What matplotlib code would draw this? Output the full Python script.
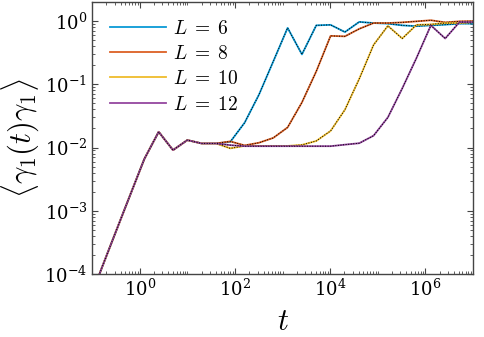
import numpy as np
import matplotlib
matplotlib.use("Agg")
import matplotlib.pyplot as plt
from matplotlib.ticker import LogLocator, NullFormatter

plt.rcParams["mathtext.fontset"] = "cm"
plt.rcParams["font.family"] = "serif"
plt.rcParams["font.serif"] = ["DejaVu Serif"]

# time grid (t = 10 * 2^k)
t = [0.078125, 0.15625, 0.3125, 0.625, 1.25, 2.5, 5, 10, 20, 40,
     80, 160, 320, 640, 1280, 2560, 5120, 10240, 20480, 40960,
     81920, 163840, 327680, 655360, 1310720, 2621440, 5242880, 10485760]

# early part shared by all sizes (t <= 40)
early = [3.0e-5, 1.2e-4, 4.6e-4, 1.75e-3, 6.6e-3, 0.0177, 0.0091,
         0.0131, 0.0116, 0.0116]

L6 = [0.0123, 0.0247, 0.0685, 0.230, 0.78, 0.297, 0.855, 0.871, 0.67,
      0.97, 0.93, 0.91, 0.855, 0.83, 0.855, 0.877, 0.91, 0.91]
L8 = [0.0125, 0.0108, 0.0119, 0.0142, 0.0208, 0.0517, 0.16, 0.583, 0.573,
      0.753, 0.93, 0.93, 0.953, 0.99, 1.03, 0.953, 0.99, 1.0]
L10 = [0.0097, 0.0106, 0.0106, 0.0106, 0.0106, 0.011, 0.0127, 0.0183,
       0.0396, 0.122, 0.42, 0.84, 0.53, 0.871, 0.886, 0.93, 0.93, 0.964]
L12 = [0.0109, 0.0105, 0.0105, 0.0105, 0.0105, 0.0105, 0.0105, 0.0105,
       0.0111, 0.0117, 0.0154, 0.030, 0.086, 0.262, 0.855, 0.53, 0.964, 0.964]

sizes = [6, 8, 10, 12]
series = [L6, L8, L10, L12]
colors = ["#0a9ad6", "#dc6024", "#efbc2c", "#94479f"]

fig = plt.figure(figsize=(4.85, 3.37), dpi=100)
ax = fig.add_axes([0.19, 0.187, 0.785, 0.807])

for L, vals, c in zip(sizes, series, colors):
    y = early + vals
    ax.plot(t, y, color=c, lw=1.3, label=r"$L\;=\;%d$" % L)
    ax.plot(t, y, color="black", lw=0.7, ls=":")

ax.set_xscale("log")
ax.set_yscale("log")
ax.set_xlim(0.1, 1e7)
ax.set_ylim(1e-4, 2)

ax.set_xticks([1e0, 1e2, 1e4, 1e6])
ax.xaxis.set_minor_locator(LogLocator(base=10, subs=np.arange(1, 10), numticks=30))
ax.xaxis.set_minor_formatter(NullFormatter())
ax.yaxis.set_major_locator(LogLocator(base=10, numticks=10))
ax.yaxis.set_minor_locator(LogLocator(base=10, subs=np.arange(2, 10), numticks=30))
ax.yaxis.set_minor_formatter(NullFormatter())

ax.tick_params(which="both", direction="in", top=True, right=True,
               labelsize=13, color="#444444")
ax.tick_params(which="major", length=4, width=0.8)
ax.tick_params(which="minor", length=2, width=0.6)
for s in ax.spines.values():
    s.set_color("#444444")
    s.set_linewidth(1.0)

ax.set_xlabel(r"$t$", fontsize=22, labelpad=4)
ax.set_ylabel(r"$\langle\gamma_1(t)\gamma_1\rangle$", fontsize=22, labelpad=2)

ax.legend(loc="upper left", frameon=False, fontsize=14, handlelength=2.9,
          handletextpad=0.35, labelspacing=0.38, borderaxespad=0.5)

fig.savefig("out.png", dpi=100)
